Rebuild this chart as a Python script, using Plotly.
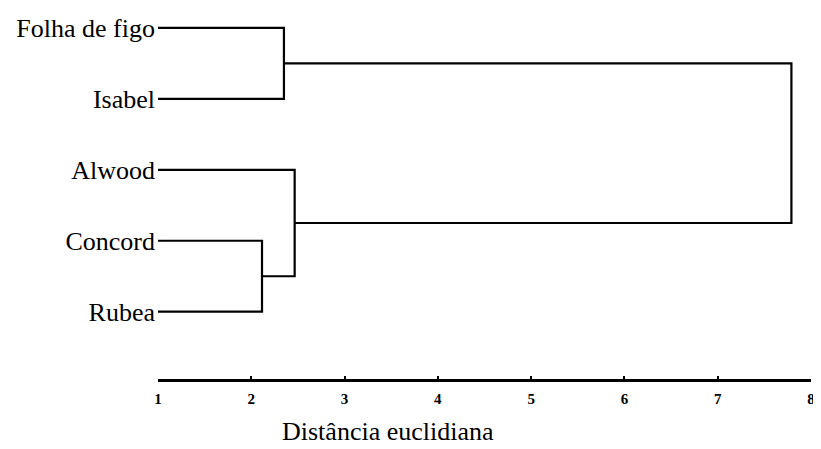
import plotly.graph_objects as go

# Data
leaves = ["Folha de figo", "Isabel", "Alwood", "Concord", "Rubea"]
leaf_start = 1.0
# merges: (left member, right member, euclidean distance); clusters referenced as "C#"
merges = [
    ("Folha de figo", "Isabel", 2.35),   # C0
    ("Concord", "Rubea", 2.115),         # C1
    ("Alwood", "C1", 2.465),             # C2
    ("C0", "C2", 7.79),                  # C3 (root)
]
tick_vals = [1, 2, 3, 4, 5, 6, 7, 8]
x_title = "Distância euclidiana"

# Build dendrogram segments
pos = {name: (leaf_start, i) for i, name in enumerate(leaves)}
xs, ys = [], []
for k, (a, b, h) in enumerate(merges):
    xa, ya = pos[a]
    xb, yb = pos[b]
    xs += [xa, h, h, xb, None]
    ys += [ya, ya, yb, yb, None]
    pos[f"C{k}"] = (h, (ya + yb) / 2)

fig = go.Figure()
fig.add_trace(go.Scatter(
    x=xs, y=ys, mode="lines",
    line=dict(color="black", width=2.2),
    hoverinfo="skip", showlegend=False,
))

serif = "Liberation Serif, Times New Roman, serif"
fig.update_layout(
    width=813, height=441,
    margin=dict(l=150, r=7, t=6, b=70),
    plot_bgcolor="white", paper_bgcolor="white",
    font=dict(family=serif, color="black"),
    xaxis=dict(
        range=[1, 8], tickvals=tick_vals, ticktext=[f"<b>{v}</b>" for v in tick_vals],
        showline=True, linecolor="black", linewidth=2.8,
        ticks="inside", ticklen=3, tickwidth=1.5, tickcolor="black",
        showgrid=False, zeroline=False,
        tickfont=dict(family=serif, size=15, color="black"),
        ticklabelstandoff=4,
    ),
    yaxis=dict(
        range=[4.948, -0.139], tickvals=list(range(len(leaves))), ticktext=leaves,
        showline=False, showgrid=False, zeroline=False, ticks="",
        tickfont=dict(family=serif, size=26, color="black"),
        ticklabelstandoff=2,
    ),
    annotations=[dict(
        text=x_title, xref="paper", yref="paper", x=0.352, y=-0.145,
        xanchor="center", yanchor="middle", showarrow=False,
        font=dict(family=serif, size=26, color="black"),
    )],
)

fig.write_html("out.html")
